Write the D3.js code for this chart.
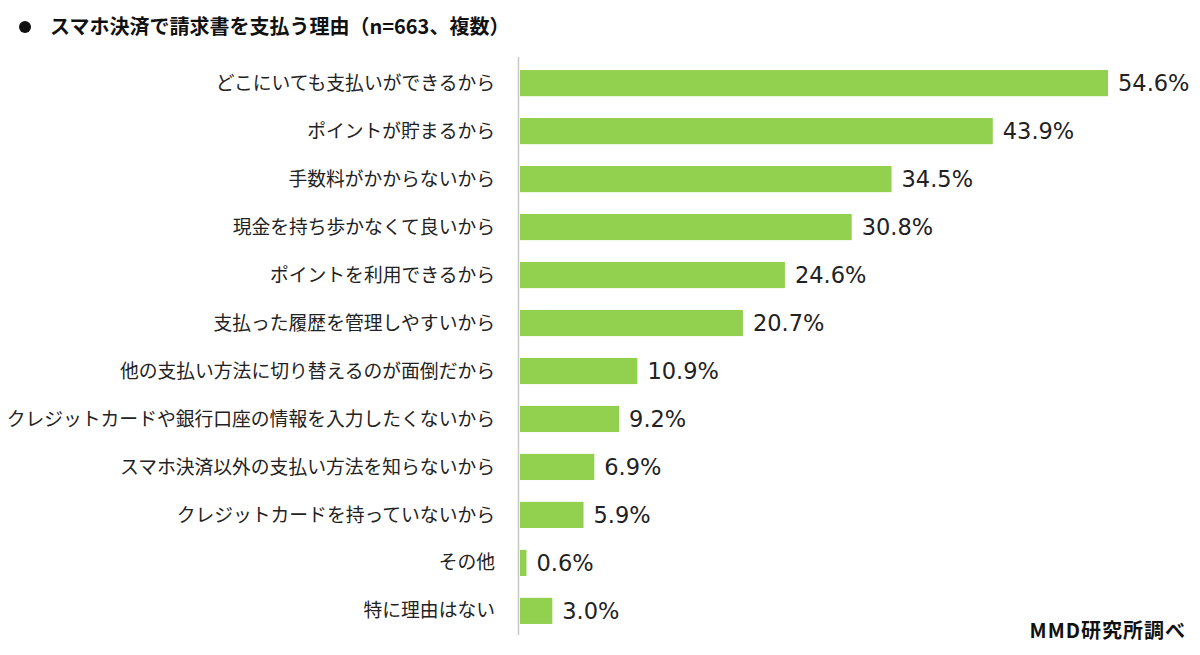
<!DOCTYPE html>
<html><head><meta charset="utf-8">
<script src="https://cdn.jsdelivr.net/npm/d3@7"></script>
<style>body{margin:0;background:#fff;}svg{display:block;}</style>
</head><body>
<script>
const categories = ["どこにいても支払いができるから","ポイントが貯まるから","手数料がかからないから","現金を持ち歩かなくて良いから","ポイントを利用できるから","支払った履歴を管理しやすいから","他の支払い方法に切り替えるのが面倒だから","クレジットカードや銀行口座の情報を入力したくないから","スマホ決済以外の支払い方法を知らないから","クレジットカードを持っていないから","その他","特に理由はない"];
const values = [54.6,43.9,34.5,30.8,24.6,20.7,10.9,9.2,6.9,5.9,0.6,3.0];
const title = "スマホ決済で請求書を支払う理由（n=663、複数）";
const source = "MMD研究所調べ";

const W=1200,H=655;
const svg=d3.select("body").append("svg").attr("width",W).attr("height",H);
const jp = "'Noto Sans CJK JP','Noto Sans',sans-serif";
const x=d3.scaleLinear().domain([0,54.6]).range([519,1107]);
const y=d3.scaleBand().domain(categories).range([59,635]).paddingInner(0.455).paddingOuter(0.23);

svg.append("circle").attr("cx",25).attr("cy",27).attr("r",6).attr("fill","#111");
svg.append("text").attr("x",50).attr("y",34).text(title)
  .attr("font-family",jp).attr("font-weight","bold").attr("font-size",20).attr("fill","#111");

svg.selectAll("rect.bar").data(values).join("rect").attr("class","bar")
  .attr("x",x(0)+1).attr("y",(d,i)=>y(categories[i]))
  .attr("width",d=>x(d)-x(0)).attr("height",y.bandwidth()).attr("fill","#92D050");

svg.append("line").attr("x1",518.5).attr("x2",518.5).attr("y1",57).attr("y2",635)
  .attr("stroke","#c8c8c8").attr("stroke-width",1.5);

svg.selectAll("text.cat").data(categories).join("text").attr("class","cat")
  .attr("x",495).attr("y",d=>y(d)+y.bandwidth()/2).attr("dy","0.35em")
  .attr("text-anchor","end").attr("font-family",jp).attr("font-size",18.8).attr("fill","#222").text(d=>d);

svg.selectAll("text.val").data(values).join("text").attr("class","val")
  .attr("x",d=>x(d)+11).attr("y",(d,i)=>y(categories[i])+y.bandwidth()/2).attr("dy","0.36em")
  .attr("font-family","'DejaVu Sans',Verdana,sans-serif").attr("font-size",22.5).attr("fill","#222")
  .text(d=>d.toFixed(1)+"%");

svg.append("text").attr("x",1186).attr("y",638).attr("text-anchor","end").text(source)
  .attr("font-family",jp).attr("font-weight","bold").attr("font-size",20).attr("letter-spacing",1).attr("fill","#111");
</script>
</body></html>
